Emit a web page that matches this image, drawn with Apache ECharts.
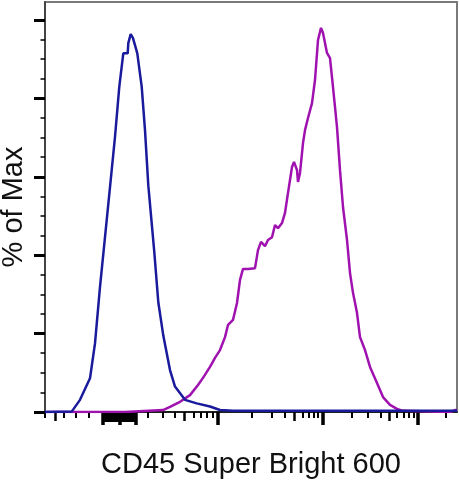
<!DOCTYPE html>
<html>
<head>
<meta charset="utf-8">
<script src="https://cdn.jsdelivr.net/npm/echarts@6/dist/echarts.min.js"></script>
<style>
html,body{margin:0;padding:0;background:#fff;}
#chart{width:459px;height:480px;}
</style>
</head>
<body>
<div id="chart"></div>
<script>
// x values are display channels (0 = left edge of plot, 412 = right edge); y values are % of Max
const blueIsotype = [
  [0,0],[26.7,0.1],[35,3.1],[45,8.6],[50,17.5],[55,31.9],[60,44.6],[65,57.4],[70,70.2],
  [74.3,83.0],[78.3,91.5],[82.7,91.5],[83.3,94.1],[85.7,96.4],[88,95.4],[92.3,91.5],
  [96.7,83.0],[100,71.9],[103.3,57.8],[109.3,40.8],[113.3,28.0],[118.3,19.5],[125,10.7],
  [130,6.5],[140,3.1],[151.7,2.2],[165,1.4],[175,0.5],[188,0.3],[412,0.3]
];
const magentaCD45 = [
  [0,0],[80,0],[81,0.4],[118,0.5],[125,1.3],[135,2.6],[145,4.3],[153,6.9],[158,8.7],
  [165,11.5],[170,13.8],[175,15.8],[180,19.1],[183,22.2],[188,23.5],[192,27.8],[195,33.7],
  [198,36.5],[203,36.5],[210,36.7],[213,41.3],[216,43.4],[220,42.3],[223,43.9],[227,44.6],
  [230,47.7],[233,46.9],[237,48.2],[240,50.8],[243,55.9],[247,62.5],[249,63.8],[252,61.7],
  [253,58.7],[255,61.0],[258,68.6],[260,71.9],[263,75.0],[267,78.8],[270,84.7],[273,94.9],
  [276,98.0],[278,96.7],[282,91.6],[285,90.3],[288,82.9],[292,72.7],[295,61.7],[298,52.3],
  [302,43.9],[305,35.5],[308,30.4],[312,25.3],[315,19.1],[320,15.8],[325,11.5],[332,7.4],
  [338,3.8],[345,1.8],[352,0.8],[358,0.3],[405,0],[410,0.5],[412,0.5]
];
// x tick positions (display channels)
const xMajorTicks = [75, 91, 58, 173, 278, 373];
const xMediumTicks = [10, 139, 249, 344];
const xMinorTicks = [0, 19, 31, 44, 103, 118, 130, 149, 156, 162, 168, 207, 227, 240, 258,
  264, 269, 273, 307, 323, 336, 352, 359, 364, 369, 401];
const xLinearTicks = [60.2, 61.8, 63.5, 65.1, 66.8, 68.4, 70.1, 71.7, 73.4,
  76.6, 78.3, 80, 81.6, 83.3, 84.9, 86.6, 88.2, 89.9];
// y tick positions (% of Max)
const yMajorTicks = [0, 20, 40, 60, 80, 100];
const yMinorTicks = [5, 10, 15, 25, 30, 35, 45, 50, 55, 65, 70, 75, 85, 90, 95];

const FONT = 'Liberation Sans, Arial, sans-serif';
const chart = echarts.init(document.getElementById('chart'));

function xAx(ticks, len, w, extra) {
  return Object.assign({
    type: 'value', min: 0, max: 412, position: 'bottom',
    axisLine: {show: false},
    axisLabel: {show: false},
    splitLine: {show: false},
    axisTick: {show: true, customValues: ticks, length: len, lineStyle: {color: '#000', width: w}}
  }, extra || {});
}
function yAx(ticks, len, w, extra) {
  return Object.assign({
    type: 'value', min: 0, max: 104.6, position: 'left',
    axisLine: {show: false},
    axisLabel: {show: false},
    splitLine: {show: false},
    axisTick: {show: true, customValues: ticks, length: len, lineStyle: {color: '#000', width: w}}
  }, extra || {});
}

chart.setOption({
  animation: false,
  backgroundColor: '#fff',
  grid: {left: 45, right: 2, top: 2, bottom: 68, containLabel: false, outerBoundsMode: 'none',
         show: true, borderColor: '#7a7a7a', borderWidth: 2, backgroundColor: 'transparent'},
  xAxis: [
    xAx(xMajorTicks, 13, 3.5, {
      axisLine: {show: true, lineStyle: {color: '#000', width: 1.5}},
      name: 'CD45 Super Bright 600', nameLocation: 'middle', nameGap: 38,
      nameTextStyle: {fontFamily: FONT, fontSize: 29, color: '#111'}
    }),
    xAx(xMediumTicks, 9, 2.5),
    xAx(xMinorTicks, 6, 2),
    xAx(xLinearTicks, 10, 2)
  ],
  yAxis: [
    yAx(yMajorTicks, 11, 3, {
      axisLine: {show: true, lineStyle: {color: '#333', width: 1.5}},
      name: '% of Max', nameLocation: 'middle', nameGap: 17, nameRotate: 90,
      nameTextStyle: {fontFamily: FONT, fontSize: 29, color: '#111'}
    }),
    yAx(yMinorTicks, 4.5, 1.5)
  ],
  series: [
    {type: 'line', data: magentaCD45, xAxisIndex: 0, yAxisIndex: 0, showSymbol: false, symbol: 'none',
     lineStyle: {color: '#a012b0', width: 2.5}, z: 3},
    {type: 'line', data: blueIsotype, xAxisIndex: 0, yAxisIndex: 0, showSymbol: false, symbol: 'none',
     lineStyle: {color: '#1a1a9c', width: 2.5}, z: 4}
  ]
});
</script>
</body>
</html>
